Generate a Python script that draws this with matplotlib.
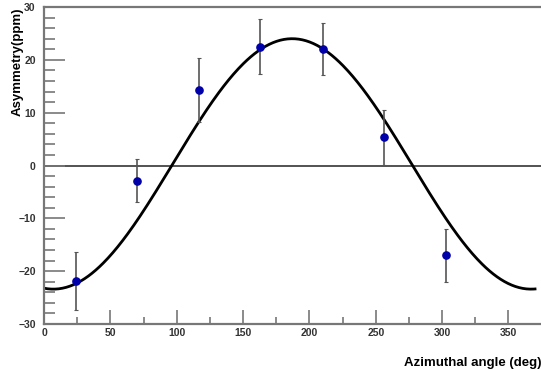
import numpy as np
import matplotlib.pyplot as plt
from matplotlib.ticker import MultipleLocator

# measured asymmetry points
angle = [24, 70, 117, 163, 210, 256, 303]
asym = [-21.8, -2.9, 14.3, 22.5, 22.1, 5.3, -17.0]
asym_err = [5.5, 4.1, 6.0, 5.2, 4.9, 5.2, 5.0]

# fit curve parameters: A*cos(phi - phi0) + c
fit_amp = 23.7
fit_phase = 187.0
fit_offset = 0.3


def fit_func(phi):
    return fit_amp * np.cos(np.radians(phi - fit_phase)) + fit_offset


def plotData():
    plt.rcParams['font.family'] = ['Liberation Sans', 'DejaVu Sans']
    fig = plt.figure(figsize=(5.41, 3.69), dpi=100)
    ax = fig.add_axes([44 / 541, 1 - 324 / 369, 1 - 44 / 541, (324 - 7) / 369])

    ax.axhline(0, color='#444444', lw=1.3, zorder=1)

    xs = np.linspace(0, 370, 400)
    ax.plot(xs, fit_func(xs), color='black', lw=2, zorder=2)

    ax.errorbar(angle, asym, yerr=asym_err, fmt='o', color='#0000a8',
                ms=5.2, ecolor='#555555', elinewidth=1.2, capsize=1.5,
                capthick=0.8, zorder=3)

    ax.set_xlim(0, 374.5)
    ax.set_ylim(-30, 30)
    ax.xaxis.set_major_locator(MultipleLocator(50))
    ax.xaxis.set_minor_locator(MultipleLocator(25))
    ax.yaxis.set_major_locator(MultipleLocator(10))
    ax.yaxis.set_minor_locator(MultipleLocator(2))

    for side in ['left', 'bottom', 'top']:
        ax.spines[side].set_color('#777777')
        ax.spines[side].set_linewidth(1.6)
    ax.spines['right'].set_visible(False)

    ax.tick_params(axis='y', which='major', direction='in', length=15,
                   width=1.2, color='#777777', labelsize=7.5, pad=6)
    ax.tick_params(axis='y', which='minor', direction='in', length=8,
                   width=1.2, color='#777777')
    ax.tick_params(axis='x', which='major', direction='in', length=10,
                   width=1.2, color='#777777', labelsize=7.5, pad=3)
    ax.tick_params(axis='x', which='minor', direction='in', length=5,
                   width=1.2, color='#777777')
    for lab in ax.get_xticklabels() + ax.get_yticklabels():
        lab.set_fontweight('bold')
        lab.set_color('#333333')

    ax.set_xlabel('Azimuthal angle (deg)', fontsize=9.5, fontweight='bold')
    ax.xaxis.set_label_coords(1.0, -0.105)
    ax.xaxis.label.set_horizontalalignment('right')
    ax.set_ylabel('Asymmetry(ppm)', fontsize=9.5, fontweight='bold')
    ax.yaxis.set_label_coords(-0.065, 1.0)
    ax.yaxis.label.set_verticalalignment('top')
    ax.yaxis.label.set_horizontalalignment('right')

    fig.savefig('out.png', dpi=100)


def main():
    plotData()


if __name__ == "__main__":
    main()
